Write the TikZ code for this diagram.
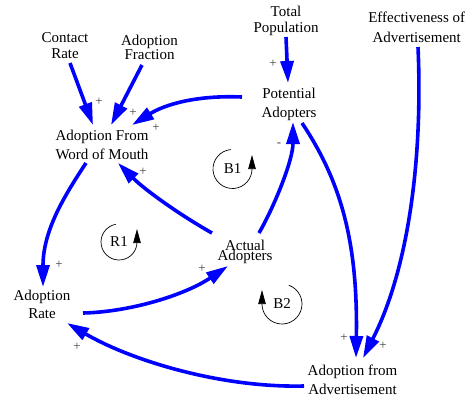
\documentclass[tikz,border=0pt]{standalone}
\usepackage{fontspec}
\setmainfont{Liberation Serif}
\usetikzlibrary{arrows.meta,calc}

\tikzset{
  var/.style={align=center,inner sep=0pt,font=\fontsize{15}{18}\selectfont},
  link/.style={blue,line width=3.6pt,-{Triangle[length=22pt,width=13pt]}},
  pol/.style={inner sep=0pt,text=black!75,font=\fontsize{13}{13}\selectfont},
  loopname/.style={inner sep=0pt,font=\fontsize{15}{18}\selectfont},
  loopline/.style={line width=0.7pt,-{Triangle[length=14pt,width=7.5pt]}}
}

\begin{document}
\begin{tikzpicture}[x=1pt,y=1pt]
  \useasboundingbox (0,0) rectangle (468,-399);

  \node[var] (contact)   at (65,-45.5)    {Contact\\[-1.3pt]Rate};
  \node[var] (fraction)  at (149.5,-47.7) {Adoption\\[-3.7pt]Fraction};
  \node[var] (wom)       at (102,-145.2)  {Adoption From\\[1.3pt]Word of Mouth};
  \node[var] (total)     at (286,-21.2)   {Total\\[-2pt]Population};
  \node[var] (effect)    at (416.7,-27.4) {Effectiveness of\\[1.6pt]Advertisement};
  \node[var] (potential) at (289,-104.5)  {Potential\\[0.6pt]Adopters};
  \node[var] (actual)    at (245,-251.8)  {Actual\\[-7.7pt]Adopters};
  \node[var] (rate)      at (42,-304.4)   {Adoption\\[-0.4pt]Rate};
  \node[var] (advert)    at (352.5,-379.4) {Adoption from\\[1pt]Advertisement};

  \draw[link] ($(contact)+(5,-17.5)$) -- ($(wom)+(-9,20.2)$);
  \draw[link] ($(fraction)+(-7.5,-17.3)$) -- ($(wom)+(9,20.2)$);
  \draw[link] ($(total)+(0,-15.8)$) -- ($(potential)+(-1,21.5)$);
  \draw[link] ($(potential)+(-47,7.5)$) .. controls +(-47,2) and +(32,20) .. ($(wom)+(30,20.2)$);
  \draw[link] ($(actual)+(14,18.8)$) .. controls +(16,28) and +(0,-38) .. ($(potential)+(4,-17.5)$);
  \draw[link] ($(potential)+(13,-18.5)$) .. controls +(38,-57) and +(2,118) .. ($(advert)+(3.5,21.4)$);
  \draw[link] ($(effect)+(1.3,-19.6)$) .. controls +(5,-113) and +(45,88) .. ($(advert)+(10.5,21.4)$);
  \draw[link] ($(wom)+(-16,-17.8)$) .. controls +(-21,-32) and +(0,57) .. ($(rate)+(1,17.4)$);
  \draw[link] ($(actual)+(-33,18.8)$) .. controls +(-32,18) and +(27,-27) .. ($(wom)+(16,-17.8)$);
  \draw[link] ($(rate)+(41,-8.6)$) .. controls +(47,1) and +(-43,-29) .. ($(actual)+(-17,-14.2)$);
  \draw[link] ($(advert)+(-48.5,-6.6)$) .. controls +(-84,-2) and +(63,-37) .. ($(rate)+(25,-18.6)$);

  % polarities
  \node[pol] (p1)  at (99,-102)  {+};
  \node[pol] (p2)  at (133,-113) {+};
  \node[pol] (p3)  at (156,-128) {+};
  \node[pol] (p4)  at (273,-64)  {+};
  \node[pol] (p5)  at (279,-145) {-};
  \node[pol] (p6)  at (59,-265)  {+};
  \node[pol] (p7)  at (143,-172) {+};
  \node[pol] (p8)  at (202,-269) {+};
  \node[pol] (p9)  at (77,-347)  {+};
  \node[pol] (p10) at (344,-338) {+};
  \node[pol] (p11) at (383,-346) {+};

  % loops
  \node[loopname] (b1) at (232.5,-169) {B1};
  \node[loopname] (r1) at (119,-242)   {R1};
  \node[loopname] (b2) at (282,-304)   {B2};
  \draw[loopline] (b1.center) ++(95:19.5) arc[start angle=95,end angle=360,radius=19.5] -- ++(0,14);
  \draw[loopline] (r1.center) ++(100:18) arc[start angle=100,end angle=360,radius=18] -- ++(0,13);
  \draw[loopline] (b2.center) ++(70:20) arc[start angle=70,end angle=-180,radius=20] -- ++(0,14);

\end{tikzpicture}
\end{document}
